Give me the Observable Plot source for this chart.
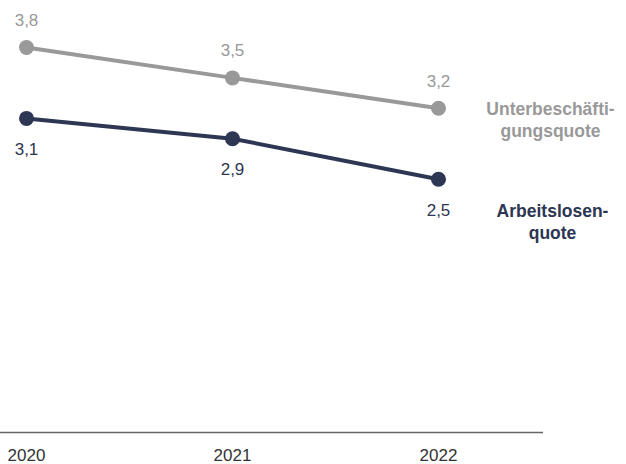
<!DOCTYPE html>
<html>
<head>
<meta charset="utf-8">
<script src="https://cdn.jsdelivr.net/npm/d3@7"></script>
<script src="https://cdn.jsdelivr.net/npm/@observablehq/plot@0.6"></script>
<style>
  html, body { margin: 0; padding: 0; background: #fff; }
  #chart svg { display: block; }
</style>
</head>
<body>
<div id="chart"></div>
<script>
const years = [2020, 2021, 2022];
const unterbeschaeftigung = [3.8, 3.5, 3.2];
const arbeitslosen = [3.1, 2.9, 2.5];
const seriesNames = ["Unterbeschäfti-\ngungsquote", "Arbeitslosen-\nquote"];
const grayColor = "#999999";
const darkColor = "#2d3652";

const fmt = v => v.toFixed(1).replace(".", ",");
const gray = years.map((y, i) => ({year: y, value: unterbeschaeftigung[i]}));
const dark = years.map((y, i) => ({year: y, value: arbeitslosen[i]}));
const font = "'Liberation Sans', Arial, sans-serif";

const chart = Plot.plot({
  width: 626,
  height: 464,
  marginTop: 0,
  marginLeft: 0,
  marginRight: 83,
  marginBottom: 32,
  style: {fontFamily: font, background: "#fff"},
  x: {domain: [2020, 2022], range: [26, 438], axis: null},
  y: {domain: [0, 3.8], range: [432, 47], axis: null},
  marks: [
    Plot.ruleY([0], {stroke: "#666", strokeWidth: 1.5}),
    Plot.text(years, {x: d => d, y: 0, dy: 23, text: d => String(d), fontSize: 17, fill: "#333"}),
    Plot.line(gray, {x: "year", y: "value", stroke: grayColor, strokeWidth: 4}),
    Plot.dot(gray, {x: "year", y: "value", r: 7.5, fill: grayColor}),
    Plot.line(dark, {x: "year", y: "value", stroke: darkColor, strokeWidth: 4}),
    Plot.dot(dark, {x: "year", y: "value", r: 7.5, fill: darkColor}),
    Plot.text(gray, {x: "year", y: "value", dy: -27, text: d => fmt(d.value), fontSize: 17, fill: grayColor}),
    Plot.text(dark, {x: "year", y: "value", dy: 31, text: d => fmt(d.value), fontSize: 17, fill: darkColor}),
    Plot.text([gray[gray.length - 1]], {x: "year", y: "value", dx: 112, dy: 11, text: () => seriesNames[0], fontSize: 17.5, fontWeight: "bold", fill: grayColor, lineHeight: 1.26}),
    Plot.text([dark[dark.length - 1]], {x: "year", y: "value", dx: 114, dy: 42, text: () => seriesNames[1], fontSize: 17.5, fontWeight: "bold", fill: darkColor, lineHeight: 1.26})
  ]
});
document.getElementById("chart").appendChild(chart);
</script>
</body>
</html>
